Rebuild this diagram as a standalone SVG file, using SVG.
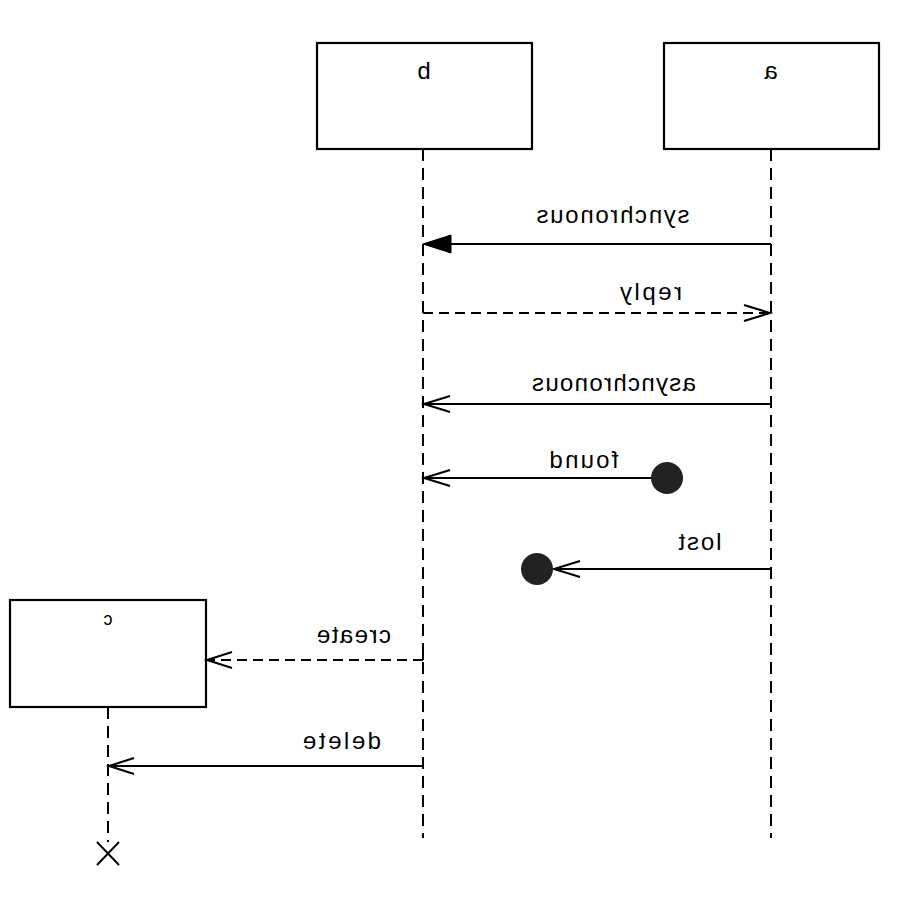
<svg xmlns="http://www.w3.org/2000/svg" width="900" height="900" viewBox="0 0 900 900">
  <style>
    .box { fill: #ffffff; stroke: #000000; stroke-width: 2.2; }
    .life { stroke: #000000; stroke-width: 2; stroke-dasharray: 12 7; fill: none; }
    .msg { stroke: #000000; stroke-width: 2; fill: none; }
    .dash { stroke-dasharray: 10 6; }
    .head { stroke: #000000; stroke-width: 2; fill: none; }
    .lbl { font-family: "Liberation Sans", Arial, sans-serif; font-size: 24px; fill: #000000; text-anchor: middle; }
    .title { font-size: 24px; }
    .small { font-size: 18px; }
  </style>
  <rect width="900" height="900" fill="#ffffff"/>

  <!-- participants (labels are drawn mirrored) -->
  <g id="node-b">
    <rect class="box" x="317" y="43" width="215" height="106"/>
    <text class="lbl title" transform="scale(-1,1)" x="-424" y="79">b</text>
  </g>
  <g id="node-a">
    <rect class="box" x="664" y="43" width="215" height="106"/>
    <text class="lbl title" transform="scale(-1,1)" x="-771" y="79">a</text>
  </g>
  <g id="node-c">
    <rect class="box" x="10" y="600" width="196" height="107"/>
    <text class="lbl small" transform="scale(-1,1)" x="-108" y="625">c</text>
  </g>

  <!-- lifelines -->
  <g id="lifelines">
    <line class="life" x1="423" y1="149" x2="423" y2="838"/>
    <line class="life" x1="771" y1="149" x2="771" y2="838"/>
    <line class="life" x1="108" y1="707" x2="108" y2="842"/>
    <path class="msg" d="M97,842 L119,865 M119,842 L97,865"/>
  </g>

  <!-- messages -->
  <g id="connectors">
    <!-- synchronous -->
    <line class="msg" x1="771" y1="244" x2="448" y2="244"/>
    <polygon points="423,244 451,235 451,253" fill="#000000" stroke="#000000" stroke-width="1"/>
    <!-- reply -->
    <line class="msg dash" x1="423" y1="313" x2="769" y2="313"/>
    <path class="head" d="M744,305 L770,313 L744,321"/>
    <!-- asynchronous -->
    <line class="msg" x1="771" y1="404" x2="424" y2="404"/>
    <path class="head" d="M450,396 L424,404 L450,412"/>
    <!-- found -->
    <line class="msg" x1="660" y1="478" x2="424" y2="478"/>
    <path class="head" d="M450,470 L424,478 L450,486"/>
    <circle cx="667" cy="478" r="16" fill="#222222"/>
    <!-- lost -->
    <line class="msg" x1="771" y1="569" x2="554" y2="569"/>
    <path class="head" d="M580,561 L554,569 L580,577"/>
    <circle cx="537" cy="569" r="16" fill="#222222"/>
    <!-- create -->
    <line class="msg dash" x1="423" y1="660" x2="208" y2="660"/>
    <line class="msg" x1="423" y1="650" x2="423" y2="660"/>
    <path class="head" d="M232,652 L207,660 L232,668"/>
    <!-- delete -->
    <line class="msg" x1="423" y1="766" x2="109" y2="766"/>
    <path class="head" d="M134,758 L109,766 L134,774"/>
  </g>

  <!-- message labels (mirrored) -->
  <g id="labels">
    <text class="lbl" transform="scale(-1,1)" x="-613" y="223" textLength="153" lengthAdjust="spacing">synchronous</text>
    <text class="lbl" transform="scale(-1,1)" x="-651" y="300" textLength="62" lengthAdjust="spacing">reply</text>
    <text class="lbl" transform="scale(-1,1)" x="-614" y="391" textLength="164" lengthAdjust="spacing">asynchronous</text>
    <text class="lbl" transform="scale(-1,1)" x="-584" y="468" textLength="69" lengthAdjust="spacing">found</text>
    <text class="lbl" transform="scale(-1,1)" x="-700" y="550" textLength="43" lengthAdjust="spacing">lost</text>
    <text class="lbl" transform="scale(-1,1)" x="-354" y="643" textLength="74" lengthAdjust="spacing">create</text>
    <text class="lbl" transform="scale(-1,1)" x="-342" y="749" textLength="78" lengthAdjust="spacing">delete</text>
  </g>
</svg>
